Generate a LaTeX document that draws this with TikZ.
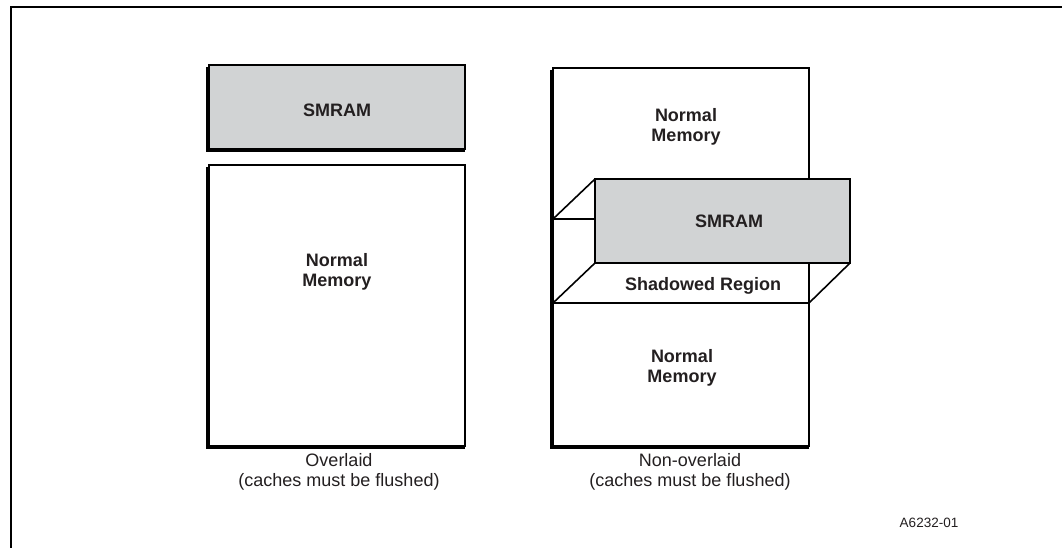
\documentclass[tikz,border=0pt]{standalone}
\usepackage{fontspec}
\setmainfont{Liberation Sans}
\definecolor{txt}{HTML}{231F20}
\definecolor{smgray}{HTML}{D1D3D4}
\tikzset{
  box/.style={draw=black, line width=1.8pt},
  edge3d/.style={draw=black, line width=4pt},
  thin/.style={draw=black, line width=1.6pt, line join=miter},
  lab/.style={text=txt, font=\bfseries\fontsize{18}{20}\selectfont, align=center, inner sep=0pt},
  capt/.style={text=txt, font=\fontsize{18}{20}\selectfont, align=center, inner sep=0pt},
  tag/.style={text=txt, font=\fontsize{13.5}{15}\selectfont, inner sep=0pt},
}
\begin{document}
\begin{tikzpicture}[x=1pt,y=-1pt]
\useasboundingbox (0,0) rectangle (1062,548);
% frame
\draw[line width=2pt] (11,548) -- (11,6.7) -- (1062,6.7);

% ---- left column ----
\coordinate (lsA) at (209,65);
\coordinate (lsB) at (465,149);
\fill[smgray] (lsA) rectangle (lsB);
\draw[box] (lsA) rectangle (lsB);
\draw[edge3d] (208,67) -- (208,150) -- (465,150);

\coordinate (lnA) at (209,165);
\coordinate (lnB) at (465,446);
\draw[box] (lnA) rectangle (lnB);
\draw[edge3d] (208,167) -- (208,447) -- (465,447);

\node[lab] (smramL) at (337,110) {SMRAM};
\node[lab] (normL) at (337,272) {Normal\\Memory};
\node[capt] (captL) at (339,472) {Overlaid\\(caches must be flushed)};

% ---- right column ----
\coordinate (rA) at (553,68);
\coordinate (rB) at (809,446);
\draw[box] (rA) rectangle (rB);
\draw[edge3d] (552,70) -- (552,447) -- (809,447);

% shadowed region
\coordinate (shBL) at (553,303);
\coordinate (shBR) at (809,303);
\coordinate (smTL) at (595,179);
\coordinate (smBR) at (850,263);
\coordinate (smBL) at (595,263);
\coordinate (smTR) at (850,179);
\coordinate (topL) at (553,219);
\draw[thin] (shBL) -- (shBR) -- (smBR);
\draw[thin] (shBL) -- (smBL);
\draw[thin] (topL) -- (smTL);
\draw[thin] (topL) -- (595,219);
\fill[smgray] (smTL) rectangle (smBR);
\draw[thin] (smTL) rectangle (smBR);

\node[lab] (normR1) at (686,127) {Normal\\Memory};
\node[lab] (smramR) at (729,221) {SMRAM};
\node[lab] (shadow) at (703,286) {Shadowed Region};
\node[lab] (normR2) at (682,368) {Normal\\Memory};
\node[capt] (captR) at (690,472) {Non-overlaid\\(caches must be flushed)};

\node[tag] (code) at (929,523) {A6232-01};
\end{tikzpicture}
\end{document}
